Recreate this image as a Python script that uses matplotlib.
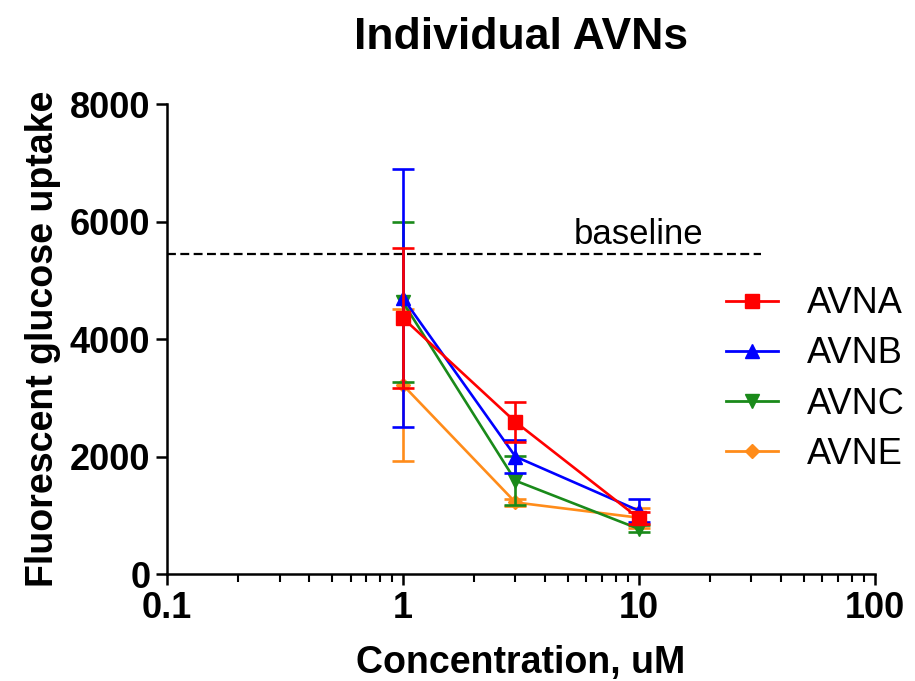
import matplotlib.pyplot as plt
from matplotlib.lines import Line2D

plt.rcParams['font.family'] = ['Liberation Sans', 'DejaVu Sans']

# concentraciones (uM) y medias +/- sd
conc = [1, 3, 10]
avna = [4360, 2590, 950]
avna_sd = [1200, 340, 100]
avnb = [4700, 2000, 1080]
avnb_sd = [2200, 280, 200]
avnc = [4630, 1590, 770]
avnc_sd = [1360, 420, 60]
avne = [3220, 1220, 960]
avne_sd = [1300, 60, 170]
baseline = 5450
baseline_x = [0.1, 33]

fig = plt.figure(figsize=(9.15, 6.81), dpi=100)
ax = fig.add_axes([0.1825, 0.157, 0.7735, 0.69])

series = [
    ("AVNA", avna, avna_sd, "#ff0000", "s"),
    ("AVNB", avnb, avnb_sd, "#0000ff", "^"),
    ("AVNC", avnc, avnc_sd, "#1a8a1a", "v"),
    ("AVNE", avne, avne_sd, "#ff8c1a", "D"),
]

handles = []
for i, (nombre, y, sd, col, mk) in enumerate(series):
    ms = 7 if mk == "D" else 9.5
    ax.errorbar(conc, y, yerr=sd, color=col, marker=mk, markersize=ms,
                linewidth=1.9, elinewidth=1.9, capsize=8, capthick=1.9,
                zorder=10 - i)
    handles.append(Line2D([], [], color=col, marker=mk, markersize=ms,
                          linewidth=2.0, label=nombre))

ax.plot(baseline_x, [baseline, baseline], linestyle=(0, (4, 2)), color="black", linewidth=1.6)
ax.text(10, 5620, "baseline", fontsize=25, ha="center", va="baseline")

ax.set_xscale("log")
ax.set_xlim(0.1, 100)
ax.set_ylim(0, 8000)
ax.set_yticks([0, 2000, 4000, 6000, 8000])
ax.set_xticks([0.1, 1, 10, 100])
ax.set_xticklabels(["0.1", "1", "10", "100"])

for s in ["top", "right"]:
    ax.spines[s].set_visible(False)
for s in ["left", "bottom"]:
    ax.spines[s].set_linewidth(1.8)
ax.tick_params(which="major", length=8, width=1.8, labelsize=26, pad=4)
ax.tick_params(which="minor", length=6, width=1.5)
for lab in ax.get_xticklabels() + ax.get_yticklabels():
    lab.set_fontweight("bold")

ax.set_xlabel("Concentration, uM", fontsize=27, fontweight="bold", labelpad=14)
ax.set_ylabel("Fluorescent glucose uptake", fontsize=27, fontweight="bold", labelpad=6)
ax.set_title("Individual AVNs", fontsize=32, fontweight="bold", pad=40)

ax.legend(handles=handles, loc="center left", bbox_to_anchor=(0.79, 0.415),
          frameon=False, fontsize=26, handlelength=1.45, labelspacing=0.42,
          handletextpad=0.8, borderaxespad=0, borderpad=0)

plt.savefig("out.png")
